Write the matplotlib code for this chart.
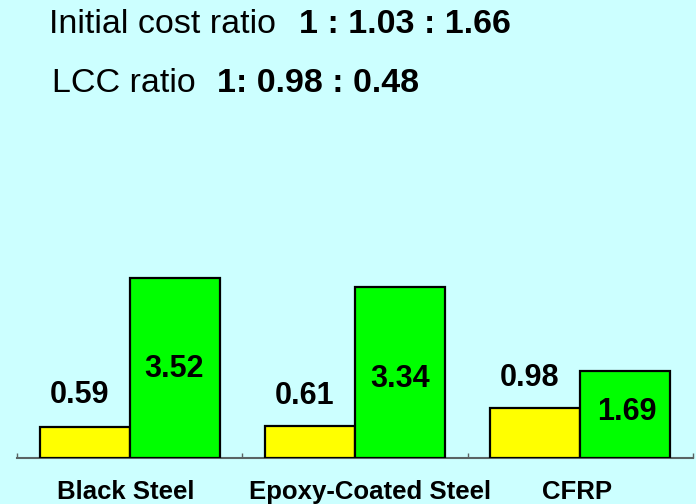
import matplotlib
matplotlib.use("Agg")
import matplotlib.pyplot as plt
import numpy as np

# Cost comparison of reinforcement types
categories = ["Black Steel", "Epoxy-Coated Steel", "CFRP"]
initial_cost = [0.59, 0.61, 0.98]
life_cycle_cost = [3.52, 3.34, 1.69]

BG = "#CCFFFF"
YELLOW = "#FFFF00"
GREEN = "#00FF00"
AXIS = "#5A6464"

PX = 0.72  # points per pixel at 100 dpi

fig = plt.figure(figsize=(6.96, 5.04), dpi=100, facecolor=BG)
ax = fig.add_axes([17 / 696, (504 - 457.5) / 504, 676 / 696, 204 / 504])
ax.set_facecolor(BG)
ax.patch.set_alpha(0)

x = np.arange(len(categories))
w = 0.4
ax.bar(x - w / 2, initial_cost, w, color=YELLOW, edgecolor="black",
       linewidth=1.6, zorder=3)
ax.bar(x + w / 2, life_cycle_cost, w, color=GREEN, edgecolor="black",
       linewidth=1.6, zorder=3)

ax.set_xlim(-0.5, len(categories) - 0.5)
ax.set_ylim(0, 4)

for s in ("left", "right", "top"):
    ax.spines[s].set_visible(False)
ax.spines["bottom"].set_color(AXIS)
ax.spines["bottom"].set_linewidth(1.5)
ax.set_yticks([])
ax.set_xticks(np.arange(len(categories) + 1) - 0.5)
ax.set_xticklabels([])
ax.tick_params(axis="x", direction="in", length=3.5, width=1, color=AXIS)

label_font = dict(fontfamily="Liberation Sans", fontweight="bold",
                  fontsize=22, color="black", ha="center", va="baseline",
                  zorder=5)

# value labels: initial cost above its bar, life-cycle cost inside its bar
yellow_off = [(-5.5, 24.3), (-5.5, 22.7), (-5.5, 21.6)]
green_off = [(-1, -98.7), (0.5, -100), (1, -48.3)]
for i, v in enumerate(initial_cost):
    dx, dy = yellow_off[i]
    ax.annotate(f"{v:.2f}", xy=(x[i] - w / 2, v), xytext=(dx * PX, dy * PX),
                textcoords="offset points", **label_font)
for i, v in enumerate(life_cycle_cost):
    dx, dy = green_off[i]
    ax.annotate(f"{v:.2f}", xy=(x[i] + w / 2, v), xytext=(dx * PX, dy * PX),
                textcoords="offset points", **label_font)

# category names below the axis
cat_off = [-4, 15, -3]
for i, name in enumerate(categories):
    ax.annotate(name, xy=(x[i], 0), xycoords=("data", "axes fraction"),
                xytext=(cat_off[i] * PX, -41.5 * PX), textcoords="offset points",
                fontfamily="Liberation Sans", fontweight="bold", fontsize=18.5,
                ha="center", va="baseline", color="black", annotation_clip=False)

# headline ratios
def fig_text(px_x, px_y, s, bold=False):
    fig.text(px_x / 696, 1 - px_y / 504, s, fontfamily="Liberation Sans",
             fontweight="bold" if bold else "normal", fontsize=24.5,
             ha="left", va="baseline", color="black")

fig_text(49, 33.3, "Initial cost ratio")
fig_text(299, 33.3, "1 : 1.03 : 1.66", bold=True)
fig_text(52, 92, "LCC ratio")
fig_text(217, 92, "1: 0.98 : 0.48", bold=True)

fig.savefig("out.png", dpi=100, facecolor=BG)
